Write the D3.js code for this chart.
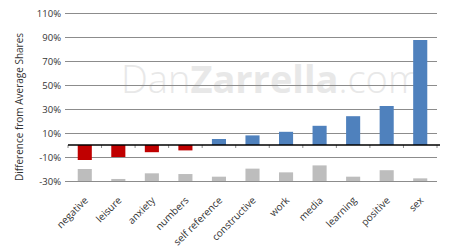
<!DOCTYPE html>
<html>
<head>
<meta charset="utf-8">
<script src="https://cdn.jsdelivr.net/npm/d3@7"></script>
<style>
  body { margin: 0; background: #fff; }
  text { font-family: "Open Sans", "DejaVu Sans", sans-serif; }
</style>
</head>
<body>
<div id="chart"></div>
<script>
// chart size
var svgWidth = 458;
var svgHeight = 247;

var margin = { top: 13, right: 21, bottom: 66, left: 68 };
var chartWidth = svgWidth - margin.left - margin.right;
var chartHeight = svgHeight - margin.top - margin.bottom;

// data
var categories = ['negative', 'leisure', 'anxiety', 'numbers', 'self reference', 'constructive',
    'work', 'media', 'learning', 'positive', 'sex'];
var differences = [-12.5, -10, -6, -4.5, 5, 8, 11, 16, 24, 32.5, 87.5];   // % difference from average
var grayTops = [-20, -28.3, -23.6, -24.2, -26.4, -19.7, -22.8, -17, -26.4, -21, -27.8]; // grey bars, drawn up from the floor
var yTicks = [-30, -10, 10, 30, 50, 70, 90, 110];

var svg = d3.select('#chart').append('svg')
    .attr('width', svgWidth)
    .attr('height', svgHeight);

var chartG = svg.append('g')
    .attr('transform', `translate(${margin.left}, ${margin.top})`);

var xScale = d3.scaleBand()
    .domain(categories)
    .range([0, chartWidth])
    .paddingInner(0.58)
    .paddingOuter(0.29);

var yScale = d3.scaleLinear()
    .domain([-30, 110])
    .range([chartHeight, 0]);

// watermark
var mark = chartG.append('text')
    .attr('x', 53)
    .attr('y', 80)
    .attr('fill', '#e8e8e8')
    .style('font-size', '38px');
mark.append('tspan').style('font-weight', 300).text('Dan');
mark.append('tspan').style('font-weight', 700).text('Zarrella');
mark.append('tspan').style('font-weight', 300).text('.com');

// gridlines + y labels
var yAxis = d3.axisLeft(yScale)
    .tickValues(yTicks)
    .tickSize(-chartWidth)
    .tickPadding(7)
    .tickFormat(d => d + '%');

var yAxisG = chartG.append('g').call(yAxis);
yAxisG.select('.domain').remove();
yAxisG.selectAll('line').attr('stroke', '#8c8c8c').attr('x1', -3);
yAxisG.selectAll('text')
    .attr('fill', '#333')
    .style('font-size', '9.5px');

// grey bars from the bottom
chartG.selectAll('.grey')
    .data(grayTops)
    .enter()
    .append('rect')
    .attr('class', 'grey')
    .attr('x', (d, i) => xScale(categories[i]))
    .attr('width', xScale.bandwidth())
    .attr('y', d => yScale(d))
    .attr('height', d => yScale(-30) - yScale(d))
    .attr('fill', '#bdbdbd');

// difference bars
chartG.selectAll('.diff')
    .data(differences)
    .enter()
    .append('rect')
    .attr('class', 'diff')
    .attr('x', (d, i) => xScale(categories[i]))
    .attr('width', xScale.bandwidth())
    .attr('y', d => yScale(Math.max(d, 0)))
    .attr('height', d => Math.abs(yScale(d) - yScale(0)))
    .attr('fill', d => d < 0 ? '#c00000' : '#4f81bd');

// zero axis with tick marks at the band edges
var zeroG = chartG.append('g')
    .attr('transform', `translate(0, ${yScale(0)})`);
zeroG.selectAll('.tick')
    .data(d3.range(categories.length + 1))
    .enter()
    .append('line')
    .attr('x1', i => i * xScale.step())
    .attr('x2', i => i * xScale.step())
    .attr('y1', 0)
    .attr('y2', 3)
    .attr('stroke', '#8c8c8c');
zeroG.append('line')
    .attr('x1', 0)
    .attr('x2', chartWidth + 3)
    .attr('stroke', '#000')
    .attr('stroke-width', 1.6);

// rotated category labels
chartG.selectAll('.xlabel')
    .data(categories)
    .enter()
    .append('text')
    .attr('class', 'xlabel')
    .attr('text-anchor', 'end')
    .attr('transform', d => `translate(${xScale(d) + xScale.bandwidth() / 2 + 4}, ${chartHeight + 20}) rotate(-45)`)
    .attr('fill', '#333')
    .style('font-size', '10px')
    .text(d => d);

// y axis title
svg.append('text')
    .attr('transform', `translate(23, ${margin.top + 94}) rotate(-90)`)
    .attr('text-anchor', 'middle')
    .attr('fill', '#333')
    .style('font-size', '10px')
    .text('Difference from Average Shares');
</script>
</body>
</html>
